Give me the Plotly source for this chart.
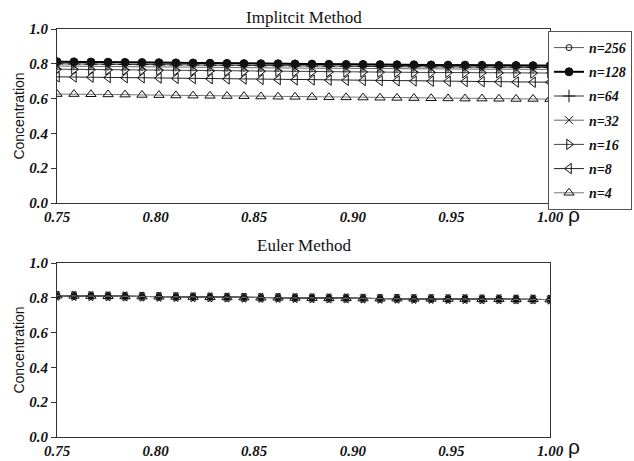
import plotly.graph_objects as go

W, H = 634, 461

rho = [0.75, 0.7586, 0.7672, 0.7759, 0.7845, 0.7931, 0.8017, 0.8103, 0.8190, 0.8276,
       0.8362, 0.8448, 0.8534, 0.8621, 0.8707, 0.8793, 0.8879, 0.8966, 0.9052, 0.9138,
       0.9224, 0.9310, 0.9397, 0.9483, 0.9569, 0.9655, 0.9741, 0.9828, 0.9914, 1.0]

names = ["n=256", "n=128", "n=64", "n=32", "n=16", "n=8", "n=4"]

imp_n256 = [0.814, 0.813, 0.812, 0.811, 0.810, 0.809, 0.808, 0.808, 0.807, 0.806,
            0.805, 0.804, 0.803, 0.803, 0.802, 0.801, 0.800, 0.800, 0.799, 0.798,
            0.797, 0.797, 0.796, 0.795, 0.795, 0.794, 0.793, 0.793, 0.792, 0.792]
imp_n128 = [0.812, 0.811, 0.810, 0.809, 0.808, 0.807, 0.806, 0.805, 0.804, 0.803,
            0.802, 0.801, 0.800, 0.800, 0.799, 0.798, 0.797, 0.796, 0.796, 0.795,
            0.794, 0.794, 0.793, 0.792, 0.792, 0.791, 0.790, 0.790, 0.789, 0.789]
imp_n64 = [0.800, 0.799, 0.798, 0.797, 0.796, 0.795, 0.794, 0.793, 0.793, 0.792,
           0.791, 0.790, 0.789, 0.789, 0.788, 0.787, 0.786, 0.786, 0.785, 0.784,
           0.784, 0.783, 0.782, 0.782, 0.781, 0.781, 0.780, 0.780, 0.779, 0.779]
imp_n32 = [0.787, 0.786, 0.785, 0.784, 0.783, 0.782, 0.782, 0.781, 0.780, 0.779,
           0.778, 0.778, 0.777, 0.776, 0.776, 0.775, 0.774, 0.774, 0.773, 0.772,
           0.772, 0.771, 0.771, 0.770, 0.770, 0.769, 0.769, 0.768, 0.768, 0.768]
imp_n16 = [0.769, 0.768, 0.767, 0.766, 0.765, 0.764, 0.763, 0.762, 0.761, 0.760,
           0.759, 0.758, 0.757, 0.757, 0.756, 0.755, 0.754, 0.754, 0.753, 0.752,
           0.752, 0.751, 0.750, 0.750, 0.749, 0.749, 0.748, 0.748, 0.747, 0.747]
imp_n8 = [0.725, 0.724, 0.723, 0.721, 0.720, 0.719, 0.718, 0.716, 0.715, 0.714,
          0.713, 0.712, 0.710, 0.709, 0.708, 0.707, 0.706, 0.705, 0.704, 0.703,
          0.702, 0.701, 0.700, 0.699, 0.698, 0.697, 0.696, 0.695, 0.694, 0.694]
imp_n4 = [0.626, 0.626, 0.625, 0.624, 0.623, 0.621, 0.620, 0.618, 0.617, 0.616,
          0.615, 0.614, 0.612, 0.611, 0.610, 0.609, 0.608, 0.607, 0.606, 0.605,
          0.604, 0.603, 0.602, 0.601, 0.600, 0.600, 0.599, 0.598, 0.598, 0.597]

eul_n256 = [0.812, 0.811, 0.810, 0.809, 0.808, 0.807, 0.806, 0.805, 0.804, 0.803,
            0.802, 0.801, 0.800, 0.800, 0.799, 0.798, 0.797, 0.797, 0.796, 0.795,
            0.795, 0.794, 0.794, 0.793, 0.793, 0.792, 0.792, 0.791, 0.791, 0.790]
eul_n128 = eul_n256
eul_n64 = eul_n256
eul_n32 = eul_n256
eul_n16 = eul_n256
eul_n8 = eul_n256
eul_n4 = eul_n256

imp = [imp_n256, imp_n128, imp_n64, imp_n32, imp_n16, imp_n8, imp_n4]
eul = [eul_n256, eul_n128, eul_n64, eul_n32, eul_n16, eul_n8, eul_n4]

symbols = ["circle-open", "circle", "cross-thin", "x-thin",
           "triangle-right-open", "triangle-left-open", "triangle-up-open"]
sizes = [6, 8, 9, 8, 9, 9, 9]
eul_sizes = [4, 3, 6, 6, 8, 8, 9]
lcolors = ["#555555", "#000000", "#333333", "#666666", "#444444", "#222222", "#777777"]
lwidths = [1, 2, 1, 1, 1, 1, 1]

fig = go.Figure()
for i, nm in enumerate(names):
    fig.add_trace(go.Scatter(
        x=rho, y=imp[i], name=nm, mode="lines+markers", xaxis="x", yaxis="y",
        legendgroup=nm,
        line=dict(color=lcolors[i], width=lwidths[i]),
        marker=dict(symbol=symbols[i], size=sizes[i], color="#111111",
                    line=dict(color="#111111", width=1)),
    ))
for i, nm in enumerate(names):
    fig.add_trace(go.Scatter(
        x=rho, y=eul[i], name=nm, mode="lines+markers", xaxis="x2", yaxis="y2",
        showlegend=False,
        line=dict(color=lcolors[i], width=1),
        marker=dict(symbol=symbols[i], size=eul_sizes[i], color="#111111",
                    line=dict(color="#111111", width=1)),
    ))

tickfont = dict(family="Liberation Serif", size=15, color="#111111",
                weight="bold", style="italic")

x0, x1 = 57 / W, 550 / W
top_dom = [1 - 203 / H, 1 - 29 / H]
bot_dom = [1 - 437 / H, 1 - 263 / H]

def xax(anchor):
    return dict(domain=[x0, x1], range=[0.75, 1.0], tickvals=[0.75, 0.80, 0.85, 0.90, 0.95, 1.00],
                ticktext=["0.75", "0.80", "0.85", "0.90", "0.95", "1.00"],
                showgrid=False, zeroline=False, showline=True, linecolor="#333333",
                linewidth=1, mirror=True, ticks="", tickfont=tickfont, anchor=anchor,
                automargin=False)

def yax(dom, anchor):
    return dict(domain=dom, range=[0, 1.0], tickvals=[0, 0.2, 0.4, 0.6, 0.8, 1.0],
                ticktext=["0.0", "0.2", "0.4", "0.6", "0.8", "1.0"],
                showgrid=False, zeroline=False, showline=True, linecolor="#333333",
                linewidth=1, mirror=True, ticks="outside", ticklen=5, tickcolor="#333333",
                tickfont=tickfont, anchor=anchor, automargin=False,
                title=dict(text="Concentration", font=dict(family="Liberation Sans", size=14,
                                                            color="#111111"), standoff=1))

title_font = dict(family="Liberation Serif", size=17, color="#111111")
rho_font = dict(family="Liberation Sans", size=21, color="#111111")

fig.update_layout(
    width=W, height=H,
    margin=dict(l=0, r=0, t=0, b=0, autoexpand=False),
    paper_bgcolor="white", plot_bgcolor="white",
    xaxis=xax("y"), yaxis=yax(top_dom, "x"),
    xaxis2=xax("y2"), yaxis2=yax(bot_dom, "x2"),
    legend=dict(x=548 / W, y=1 - 31 / H, xanchor="left", yanchor="top",
                bordercolor="#555555", borderwidth=1, bgcolor="white",
                tracegroupgap=3, itemwidth=30,
                font=dict(family="Liberation Serif", size=14, color="#111111",
                          weight="bold", style="italic")),
    annotations=[
        dict(text="Implitcit Method", x=(x0 + x1) / 2, y=1 - 17 / H, xref="paper", yref="paper",
             xanchor="center", yanchor="middle", showarrow=False, font=title_font),
        dict(text="Euler Method", x=(x0 + x1) / 2, y=1 - 246 / H, xref="paper", yref="paper",
             xanchor="center", yanchor="middle", showarrow=False, font=title_font),
        dict(text="ρ", x=574 / W, y=1 - 215 / H, xref="paper", yref="paper",
             xanchor="center", yanchor="middle", showarrow=False, font=rho_font),
        dict(text="ρ", x=574 / W, y=1 - 446 / H, xref="paper", yref="paper",
             xanchor="center", yanchor="middle", showarrow=False, font=rho_font),
    ],
)

fig.write_html("out.html")
